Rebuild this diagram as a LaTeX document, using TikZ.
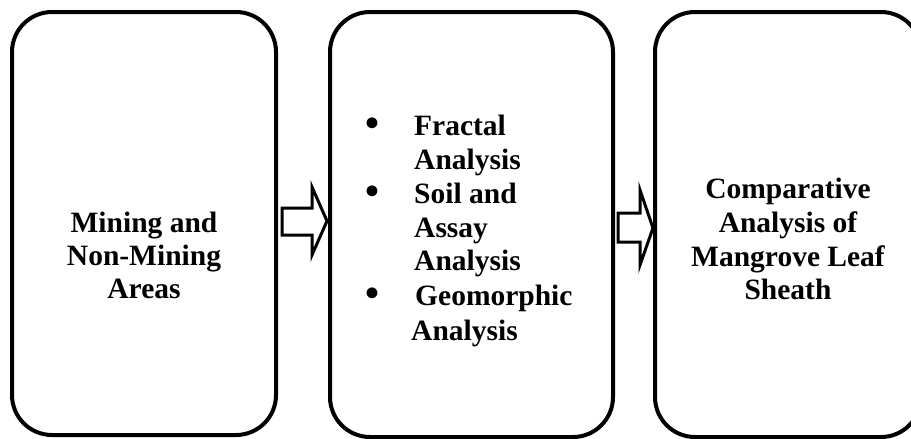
\documentclass[tikz,border=0pt]{standalone}
\usepackage{fontspec}
\usepackage{graphicx}
\setmainfont{Liberation Serif}
\begin{document}
\begin{tikzpicture}[x=1pt,y=-1pt,
  box/.style={draw=black,line width=4pt,rounded corners=40pt},
  blockarrow/.style={draw=black,line width=3pt,miter limit=20,fill=white},
  txt/.style={inner sep=0pt,anchor=base,font=\fontsize{29.5}{33}\bfseries\selectfont},
  ltxt/.style={txt,anchor=base west},
  bul/.style={txt,anchor=base}]
\useasboundingbox (0,0) rectangle (911,439);
\begin{scope}
\clip (0,0) rectangle (911,439);
% boxes
\draw[box] (12,12) rectangle (276,435);
\draw[box] (330,12) rectangle (613,437);
\draw[box] (655,12) rectangle (921,437);
% block arrows
\draw[blockarrow] (282,208) -- (312,208) -- (312,187) -- (327,221) -- (312,255) -- (312,235) -- (282,235) -- cycle;
\draw[blockarrow] (618,213) -- (640,213) -- (640,190) -- (653,228) -- (640,265) -- (640,242) -- (618,242) -- cycle;
\end{scope}
% box 1 text
\node[txt] (a1) at (144,232) {Mining and};
\node[txt] (a2) at (144,265) {Non-Mining};
\node[txt] (a3) at (144,298) {Areas};
% box 2 text
\node[bul] (b1) at (372,136) {\scalebox{1.35}{•}};
\node[bul] (b2) at (372,204) {\scalebox{1.35}{•}};
\node[bul] (b3) at (372,306) {\scalebox{1.35}{•}};
\node[ltxt] (c1) at (414,135) {Fractal};
\node[ltxt] (c2) at (414,169) {Analysis};
\node[ltxt] (c3) at (414,203) {Soil and};
\node[ltxt] (c4) at (414,237) {Assay};
\node[ltxt] (c5) at (414,270) {Analysis};
\node[ltxt] (c6) at (415,305) {Geomorphic};
\node[ltxt] (c7) at (411,340) {Analysis};
% box 3 text
\node[txt] (d1) at (788,198) {Comparative};
\node[txt] (d2) at (788,232) {Analysis of};
\node[txt] (d3) at (788,266) {Mangrove Leaf};
\node[txt] (d4) at (788,299) {Sheath};
\end{tikzpicture}
\end{document}
